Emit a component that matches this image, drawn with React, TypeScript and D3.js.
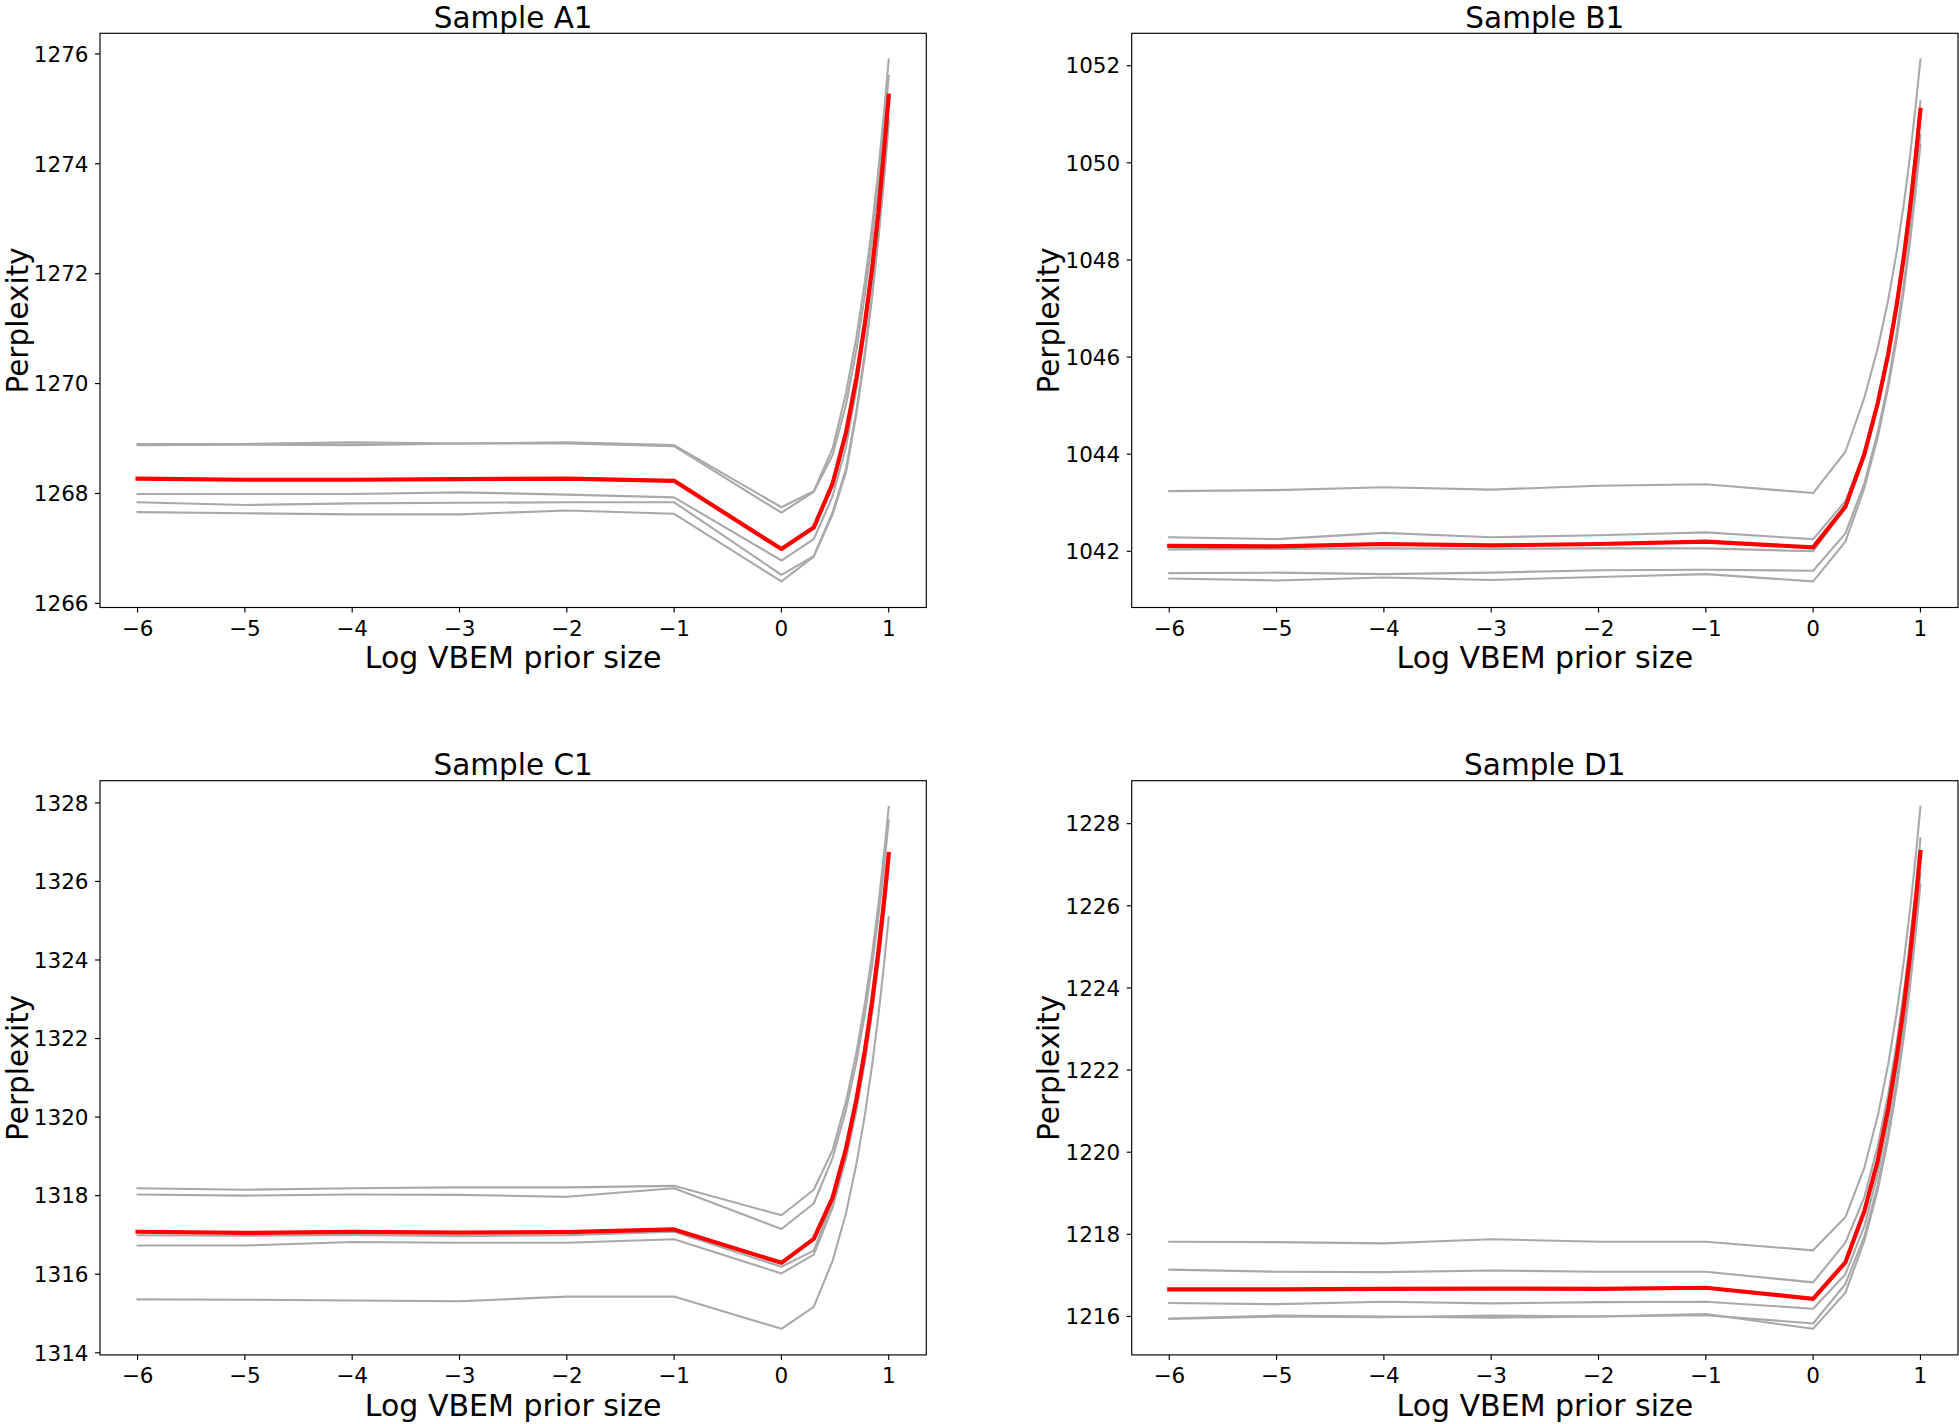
import React from "react";
import * as d3 from "d3";

// x positions: log10 of VBEM prior size (1e-6 ... 1e-1, then 1..10)
const logPrior = [-6, -5, -4, -3, -2, -1, 0, 0.301, 0.477, 0.602, 0.699, 0.778, 0.845, 0.903, 0.954, 1];
const xTicks = [-6, -5, -4, -3, -2, -1, 0, 1];

const titles = ["Sample A1", "Sample B1", "Sample C1", "Sample D1"];

const a1Gray = [
  [1268.90, 1268.90, 1268.93, 1268.91, 1268.93, 1268.88, 1267.75, 1268.04, 1268.82, 1269.83, 1270.85, 1271.86, 1272.87, 1273.88, 1274.89, 1275.90],
  [1268.88, 1268.89, 1268.88, 1268.91, 1268.91, 1268.86, 1267.65, 1268.03, 1268.70, 1269.62, 1270.62, 1271.62, 1272.61, 1273.60, 1274.60, 1275.60],
  [1267.99, 1267.99, 1267.99, 1268.02, 1267.98, 1267.93, 1266.78, 1267.17, 1267.95, 1268.85, 1269.91, 1270.97, 1272.02, 1273.08, 1274.14, 1275.20],
  [1267.84, 1267.79, 1267.82, 1267.83, 1267.84, 1267.84, 1266.52, 1266.86, 1267.66, 1268.45, 1269.51, 1270.57, 1271.63, 1272.68, 1273.74, 1274.80],
  [1267.66, 1267.64, 1267.62, 1267.62, 1267.69, 1267.63, 1266.40, 1266.85, 1267.62, 1268.39, 1269.45, 1270.51, 1271.57, 1272.62, 1273.68, 1274.74],
];
const a1Mean = [1268.27, 1268.25, 1268.25, 1268.26, 1268.27, 1268.23, 1266.99, 1267.38, 1268.18, 1269.11, 1270.10, 1271.10, 1272.10, 1273.10, 1274.20, 1275.24];
const a1Ticks = [1266, 1268, 1270, 1272, 1274, 1276];

const b1Gray = [
  [1043.24, 1043.26, 1043.32, 1043.27, 1043.35, 1043.38, 1043.20, 1044.05, 1045.16, 1046.18, 1047.17, 1048.16, 1049.15, 1050.14, 1051.14, 1052.13],
  [1042.29, 1042.25, 1042.38, 1042.29, 1042.33, 1042.39, 1042.25, 1043.03, 1044.05, 1045.10, 1046.13, 1047.16, 1048.18, 1049.21, 1050.24, 1051.27],
  [1042.04, 1042.05, 1042.06, 1042.05, 1042.06, 1042.06, 1042.00, 1042.90, 1043.95, 1045.00, 1046.02, 1047.03, 1048.05, 1049.07, 1050.08, 1051.10],
  [1041.55, 1041.56, 1041.53, 1041.56, 1041.61, 1041.62, 1041.60, 1042.37, 1043.40, 1044.45, 1045.47, 1046.49, 1047.51, 1048.54, 1049.56, 1050.58],
  [1041.44, 1041.40, 1041.46, 1041.41, 1041.47, 1041.53, 1041.38, 1042.20, 1043.30, 1044.35, 1045.36, 1046.36, 1047.37, 1048.37, 1049.38, 1050.38],
];
const b1Mean = [1042.11, 1042.10, 1042.15, 1042.12, 1042.15, 1042.20, 1042.08, 1042.92, 1044.00, 1045.05, 1046.05, 1047.06, 1048.06, 1049.07, 1050.08, 1051.09];
const b1Ticks = [1042, 1044, 1046, 1048, 1050, 1052];

const c1Gray = [
  [1318.19, 1318.15, 1318.19, 1318.21, 1318.21, 1318.25, 1317.50, 1318.15, 1319.16, 1320.40, 1321.65, 1322.90, 1324.15, 1325.40, 1326.65, 1327.90],
  [1318.03, 1318.00, 1318.03, 1318.02, 1317.97, 1318.19, 1317.15, 1317.80, 1318.96, 1320.19, 1321.41, 1322.64, 1323.87, 1325.09, 1326.32, 1327.55],
  [1316.99, 1316.98, 1317.00, 1316.97, 1316.99, 1317.08, 1316.19, 1316.60, 1317.85, 1319.10, 1320.35, 1321.60, 1322.85, 1324.10, 1325.35, 1326.60],
  [1316.73, 1316.73, 1316.82, 1316.80, 1316.80, 1316.89, 1316.02, 1316.50, 1317.70, 1318.94, 1320.17, 1321.41, 1322.65, 1323.88, 1325.12, 1326.36],
  [1315.36, 1315.35, 1315.33, 1315.31, 1315.43, 1315.43, 1314.61, 1315.17, 1316.34, 1317.55, 1318.81, 1320.06, 1321.32, 1322.58, 1323.83, 1325.09],
];
const c1Mean = [1317.08, 1317.05, 1317.08, 1317.06, 1317.07, 1317.14, 1316.29, 1316.90, 1317.95, 1319.20, 1320.45, 1321.70, 1322.95, 1324.20, 1325.45, 1326.70];
const c1Ticks = [1314, 1316, 1318, 1320, 1322, 1324, 1326, 1328];

const d1Gray = [
  [1217.82, 1217.81, 1217.78, 1217.88, 1217.82, 1217.82, 1217.61, 1218.42, 1219.62, 1220.88, 1222.13, 1223.39, 1224.64, 1225.90, 1227.15, 1228.41],
  [1217.14, 1217.09, 1217.08, 1217.12, 1217.09, 1217.09, 1216.83, 1217.80, 1218.90, 1220.15, 1221.40, 1222.65, 1223.89, 1225.14, 1226.39, 1227.64],
  [1216.33, 1216.30, 1216.36, 1216.32, 1216.35, 1216.36, 1216.19, 1217.03, 1218.20, 1219.49, 1220.77, 1222.06, 1223.34, 1224.63, 1225.91, 1227.20],
  [1215.94, 1216.00, 1215.98, 1216.02, 1216.00, 1216.03, 1215.83, 1216.79, 1217.95, 1219.21, 1220.47, 1221.73, 1222.99, 1224.26, 1225.52, 1226.78],
  [1215.95, 1216.02, 1216.00, 1215.97, 1216.00, 1216.06, 1215.70, 1216.58, 1217.84, 1219.08, 1220.32, 1221.56, 1222.80, 1224.04, 1225.28, 1226.52],
];
const d1Mean = [1216.66, 1216.66, 1216.67, 1216.68, 1216.67, 1216.70, 1216.43, 1217.32, 1218.56, 1219.80, 1221.05, 1222.30, 1223.55, 1224.80, 1226.05, 1227.31];
const d1Ticks = [1216, 1218, 1220, 1222, 1224, 1226, 1228];

const panels = [
  { title: titles[0], gray: a1Gray, mean: a1Mean, ticks: a1Ticks },
  { title: titles[1], gray: b1Gray, mean: b1Mean, ticks: b1Ticks },
  { title: titles[2], gray: c1Gray, mean: c1Mean, ticks: c1Ticks },
  { title: titles[3], gray: d1Gray, mean: d1Mean, ticks: d1Ticks },
];

const W = 1959;
const H = 1424;
const colLeft = [100, 1131.7];
const rowTop = [33.3, 780.7];
const PW = 826.3;
const PH = 574.2;
const FONT = "DejaVu Sans, sans-serif";

function pad(ext: [number, number]): [number, number] {
  const r = ext[1] - ext[0];
  return [ext[0] - r * 0.05, ext[1] + r * 0.05];
}

function Panel({ p, left, top, idx }: any) {
  const x = d3.scaleLinear().domain(pad(d3.extent(logPrior) as [number, number])).range([0, PW]);
  const all = p.gray.flat().concat(p.mean);
  const y = d3.scaleLinear().domain(pad(d3.extent(all) as [number, number])).range([PH, 0]);
  const line = d3
    .line<number>()
    .x((_, i) => x(logPrior[i]))
    .y((d) => y(d));
  const clipId = `clip${idx}`;
  return (
    <g transform={`translate(${left},${top})`}>
      <defs>
        <clipPath id={clipId}>
          <rect x={0} y={0} width={PW} height={PH} />
        </clipPath>
      </defs>
      <g clipPath={`url(#${clipId})`}>
        {p.gray.map((s: number[], i: number) => (
          <path key={i} d={line(s) || ""} fill="none" stroke="#a9a9a9" strokeWidth={2.1} strokeLinejoin="round" strokeLinecap="square" />
        ))}
        <path d={line(p.mean) || ""} fill="none" stroke="#ff0000" strokeWidth={4.2} strokeLinejoin="round" strokeLinecap="square" />
      </g>
      <rect x={0} y={0} width={PW} height={PH} fill="none" stroke="#000" strokeWidth={1.15} />
      {xTicks.map((t) => (
        <g key={t} transform={`translate(${x(t)},${PH})`}>
          <line y1={0} y2={5} stroke="#000" strokeWidth={1.15} />
          <text y={28} textAnchor="middle" fontFamily={FONT} fontSize={21.5} fill="#000">
            {t < 0 ? `\u2212${Math.abs(t)}` : `${t}`}
          </text>
        </g>
      ))}
      {p.ticks.map((t: number) => (
        <g key={t} transform={`translate(0,${y(t)})`}>
          <line x1={0} x2={-5} stroke="#000" strokeWidth={1.15} />
          <text x={-11.5} dy="0.36em" textAnchor="end" fontFamily={FONT} fontSize={21.5} fill="#000">
            {t}
          </text>
        </g>
      ))}
      <text x={PW / 2} y={-5.5} textAnchor="middle" fontFamily={FONT} fontSize={29.5} fill="#000">
        {p.title}
      </text>
      <text x={PW / 2} y={PH + 61} textAnchor="middle" fontFamily={FONT} fontSize={30} fill="#000">
        Log VBEM prior size
      </text>
      <text
        transform={`translate(-72.5,${PH / 2}) rotate(-90)`}
        textAnchor="middle"
        fontFamily={FONT}
        fontSize={29.5}
        fill="#000"
      >
        Perplexity
      </text>
    </g>
  );
}

export default function App() {
  return (
    <svg
      width={W}
      height={H}
      viewBox={`0 0 ${W} ${H}`}
      style={{ position: "absolute", left: 0, top: 0, background: "#fff" }}
    >
      <rect x={0} y={0} width={W} height={H} fill="#fff" />
      {panels.map((p, i) => (
        <Panel key={i} p={p} idx={i} left={colLeft[i % 2]} top={rowTop[Math.floor(i / 2)]} />
      ))}
    </svg>
  );
}
